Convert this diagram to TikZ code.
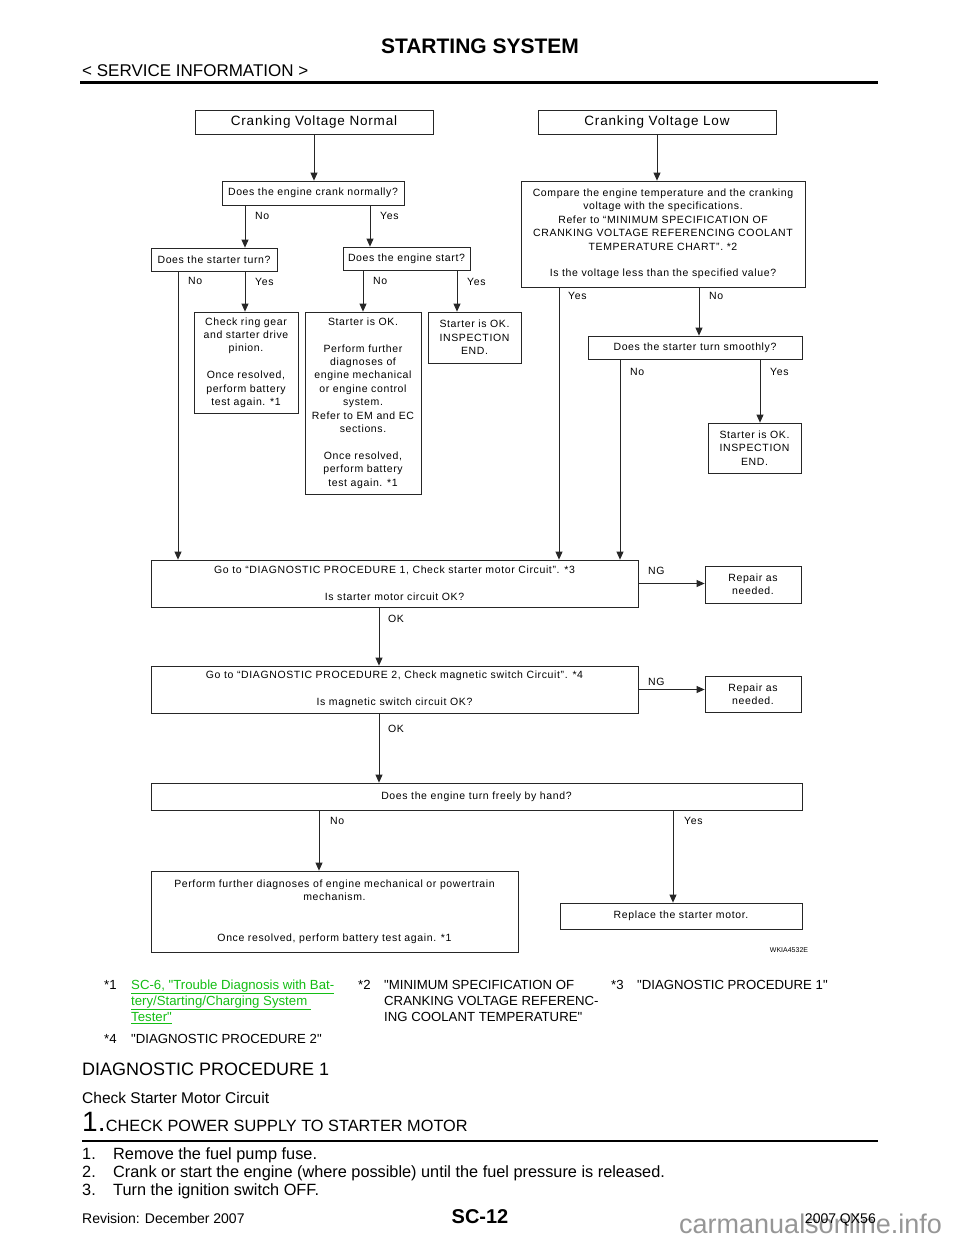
\documentclass[tikz,border=0pt]{standalone}
\usepackage{fontspec}
\setmainfont[Ligatures=TeXOff]{Liberation Sans}
\newfontfamily\chartfont[LetterSpace=6]{Liberation Sans}
\usetikzlibrary{arrows.meta}
\definecolor{linkgreen}{RGB}{20,190,20}
\definecolor{markgray}{RGB}{150,150,150}

\tikzset{
  box/.style={draw=black!85, line width=0.8pt, inner sep=0pt, align=center, font=\chartfont\fontsize{10.5pt}{13.4pt}\selectfont},
  lbl/.style={anchor=west, inner sep=0pt, font=\chartfont\fontsize{10.5pt}{13.4pt}\selectfont},
  flow/.style={draw=black!85, line width=0.8pt, -{Triangle[length=8pt,width=7pt]}},
  page/.style={inner sep=0pt, anchor=base west},
}

\begin{document}
\begin{tikzpicture}[x=1pt,y=-1pt]
\fill[white] (0,0) rectangle (960,1242);
\useasboundingbox (0,0) rectangle (960,1242);

% page head
\node[inner sep=0pt, anchor=base, font=\bfseries\fontsize{21pt}{24pt}\selectfont] (title) at (480,53) {STARTING SYSTEM};
\node[page, font=\fontsize{17pt}{20pt}\selectfont] (sect) at (82,76.7) {< SERVICE INFORMATION >};
\draw[line width=2.5pt] (80,82.5) -- (878,82.5);

% boxes, left branch
\node[box, minimum width=238pt, minimum height=24pt, font=\chartfont\fontsize{13.5pt}{16pt}\selectfont] (normal) at (314,122) {Cranking Voltage Normal};
\node[box, minimum width=182pt, minimum height=24pt] (crank) at (313,193) {Does the engine crank normally?};
\node[box, minimum width=126pt, minimum height=23pt] (turn) at (214,259.5) {Does the starter turn?};
\node[box, minimum width=127pt, minimum height=23pt] (start) at (406.5,258.5) {Does the engine start?};
\node[box, minimum width=104pt, minimum height=101pt] (ring) at (246,362.5) {Check ring gear\\and starter drive\\pinion.\\ \\Once resolved,\\perform battery\\test again. *1};
\node[box, minimum width=116pt, minimum height=182pt] (further) at (363,403) {Starter is OK.\\ \\Perform further\\diagnoses of\\engine mechanical\\or engine control\\system.\\Refer to EM and EC\\sections.\\ \\Once resolved,\\perform battery\\test again. *1};
\node[box, minimum width=93pt, minimum height=51pt] (endA) at (474.5,337.5) {Starter is OK.\\INSPECTION\\END.};

% boxes, right branch
\node[box, minimum width=238pt, minimum height=24pt, font=\chartfont\fontsize{13.5pt}{16pt}\selectfont] (low) at (657,122) {Cranking Voltage Low};
\node[box, minimum width=284pt, minimum height=106pt] (compare) at (663,234) {Compare the engine temperature and the cranking\\voltage with the specifications.\\Refer to “MINIMUM SPECIFICATION OF\\CRANKING VOLTAGE REFERENCING COOLANT\\TEMPERATURE CHART”. *2\\ \\Is the voltage less than the specified value?};
\node[box, minimum width=214pt, minimum height=23pt] (smooth) at (695,347.5) {Does the starter turn smoothly?};
\node[box, minimum width=93pt, minimum height=50pt] (endB) at (754.5,448) {Starter is OK.\\INSPECTION\\END.};

% boxes, lower part
\node[box, minimum width=487pt, minimum height=47pt] (proc1) at (394.5,583.5) {Go to “DIAGNOSTIC PROCEDURE 1, Check starter motor Circuit”. *3\\ \\Is starter motor circuit OK?};
\node[box, minimum width=96pt, minimum height=37pt] (repA) at (753,584.5) {Repair as\\needed.};
\node[box, minimum width=487pt, minimum height=47pt] (proc2) at (394.5,689.5) {Go to “DIAGNOSTIC PROCEDURE 2, Check magnetic switch Circuit”. *4\\ \\Is magnetic switch circuit OK?};
\node[box, minimum width=96pt, minimum height=36pt] (repB) at (753,694) {Repair as\\needed.};
\node[box, minimum width=651pt, minimum height=27pt] (free) at (476.5,796.5) {Does the engine turn freely by hand?};
\node[box, minimum width=367pt, minimum height=81pt] (powertrain) at (334.5,911.5) {Perform further diagnoses of engine mechanical or powertrain\\mechanism.\\ \\ \\Once resolved, perform battery test again. *1};
\node[box, minimum width=242pt, minimum height=26pt] (replace) at (681,916) {Replace the starter motor.};
\node[inner sep=0pt, font=\fontsize{7pt}{8pt}\selectfont] (code) at (789,950) {WKIA4532E};

% x positions of the branch lines
\coordinate (cNo) at (245,0);
\coordinate (cYes) at (370,0);
\coordinate (tNo) at (178,0);
\coordinate (sNo) at (363,0);
\coordinate (sYes) at (457,0);
\coordinate (vYes) at (559,0);
\coordinate (vNo) at (699,0);
\coordinate (mNo) at (620,0);
\coordinate (mYes) at (760,0);
\coordinate (ok) at (379,0);
\coordinate (fNo) at (319,0);
\coordinate (fYes) at (673,0);

% connectors
\draw[flow] (normal.south) -- (normal.south |- crank.north);
\draw[flow] (crank.south -| cNo) -- (turn.north -| cNo);
\draw[flow] (crank.south -| cYes) -- (start.north -| cYes);
\draw[flow] (turn.south -| tNo) -- (proc1.north -| tNo);
\draw[flow] (turn.south -| cNo) -- (ring.north -| cNo);
\draw[flow] (start.south -| sNo) -- (further.north -| sNo);
\draw[flow] (start.south -| sYes) -- (endA.north -| sYes);
\draw[flow] (low.south) -- (low.south |- compare.north);
\draw[flow] (compare.south -| vYes) -- (proc1.north -| vYes);
\draw[flow] (compare.south -| vNo) -- (smooth.north -| vNo);
\draw[flow] (smooth.south -| mNo) -- (proc1.north -| mNo);
\draw[flow] (smooth.south -| mYes) -- (endB.north -| mYes);
\draw[flow] (proc1.east) -- (proc1.east -| repA.west);
\draw[flow] (proc1.south -| ok) -- (proc2.north -| ok);
\draw[flow] (proc2.east) -- (proc2.east -| repB.west);
\draw[flow] (proc2.south -| ok) -- (free.north -| ok);
\draw[flow] (free.south -| fNo) -- (powertrain.north -| fNo);
\draw[flow] (free.south -| fYes) -- (replace.north -| fYes);

% answer labels
\node[lbl] (l1) at (255,216) {No};
\node[lbl] (l2) at (380,216) {Yes};
\node[lbl] (l3) at (188,281) {No};
\node[lbl] (l4) at (255,282) {Yes};
\node[lbl] (l5) at (373,281) {No};
\node[lbl] (l6) at (467,282) {Yes};
\node[lbl] (l7) at (568,296) {Yes};
\node[lbl] (l8) at (709,296) {No};
\node[lbl] (l9) at (630,372) {No};
\node[lbl] (l10) at (770,372) {Yes};
\node[lbl] (l11) at (648,571) {NG};
\node[lbl] (l12) at (648,682) {NG};
\node[lbl] (l13) at (388,619) {OK};
\node[lbl] (l14) at (388,729) {OK};
\node[lbl] (l15) at (330,821) {No};
\node[lbl] (l16) at (684,821) {Yes};

% notes
\begin{scope}[every node/.style={page, font=\fontsize{13.2pt}{16.3pt}\selectfont}]
\node (n1) at (104,989) {*1};
\node[text=linkgreen] (n1a) at (131,989) {\underline{SC-6, "Trouble Diagnosis with Bat-}};
\node[text=linkgreen] (n1b) at (131,1005.5) {\underline{tery/Starting/Charging System\ }};
\node[text=linkgreen] (n1c) at (131,1021.5) {\underline{Tester"}};
\node (n2) at (358,989) {*2};
\node (n2a) at (384,989) {"MINIMUM SPECIFICATION OF};
\node (n2b) at (384,1005.5) {CRANKING VOLTAGE REFERENC-};
\node (n2c) at (384,1021.5) {ING COOLANT TEMPERATURE"};
\node (n3) at (611,989) {*3};
\node (n3t) at (637,989) {"DIAGNOSTIC PROCEDURE 1"};
\node (n4) at (104,1043) {*4};
\node (n4t) at (131,1043) {"DIAGNOSTIC PROCEDURE 2"};
\end{scope}

% procedure text
\node[page, font=\fontsize{18pt}{21pt}\selectfont] (proc) at (82,1075) {DIAGNOSTIC PROCEDURE 1};
\node[page, font=\fontsize{15.5pt}{18pt}\selectfont] (sub) at (82,1103.3) {Check Starter Motor Circuit};
\node[page, font=\fontsize{28pt}{30pt}\selectfont] (stepno) at (82,1131.7) {1.};
\node[page, font=\fontsize{16.3pt}{19pt}\selectfont] (steptext) at (stepno.base east) {CHECK POWER SUPPLY TO STARTER MOTOR};
\draw[line width=1.2pt] (82,1141) -- (878,1141);
\begin{scope}[every node/.style={page, font=\fontsize{16.3pt}{18pt}\selectfont}]
\node (i1) at (82,1159) {1.};
\node (i1t) at (113,1159) {Remove the fuel pump fuse.};
\node (i2) at (82,1177) {2.};
\node (i2t) at (113,1177) {Crank or start the engine (where possible) until the fuel pressure is released.};
\node (i3) at (82,1195) {3.};
\node (i3t) at (113,1195) {Turn the ignition switch OFF.};
\end{scope}

% page foot
\node[page, font=\fontsize{14pt}{16pt}\selectfont] (rev) at (82,1223) {Revision: December 2007};
\node[inner sep=0pt, anchor=base, font=\bfseries\fontsize{20pt}{22pt}\selectfont] (pageno) at (480,1223) {SC-12};
\node[page, text=markgray, font=\fontsize{27pt}{30pt}\selectfont] (mark) at (679,1233) {carmanualsonline.info};
\node[inner sep=0pt, anchor=base east, font=\fontsize{14pt}{16pt}\selectfont] (model) at (876,1223) {2007 QX56};
\end{tikzpicture}
\end{document}
